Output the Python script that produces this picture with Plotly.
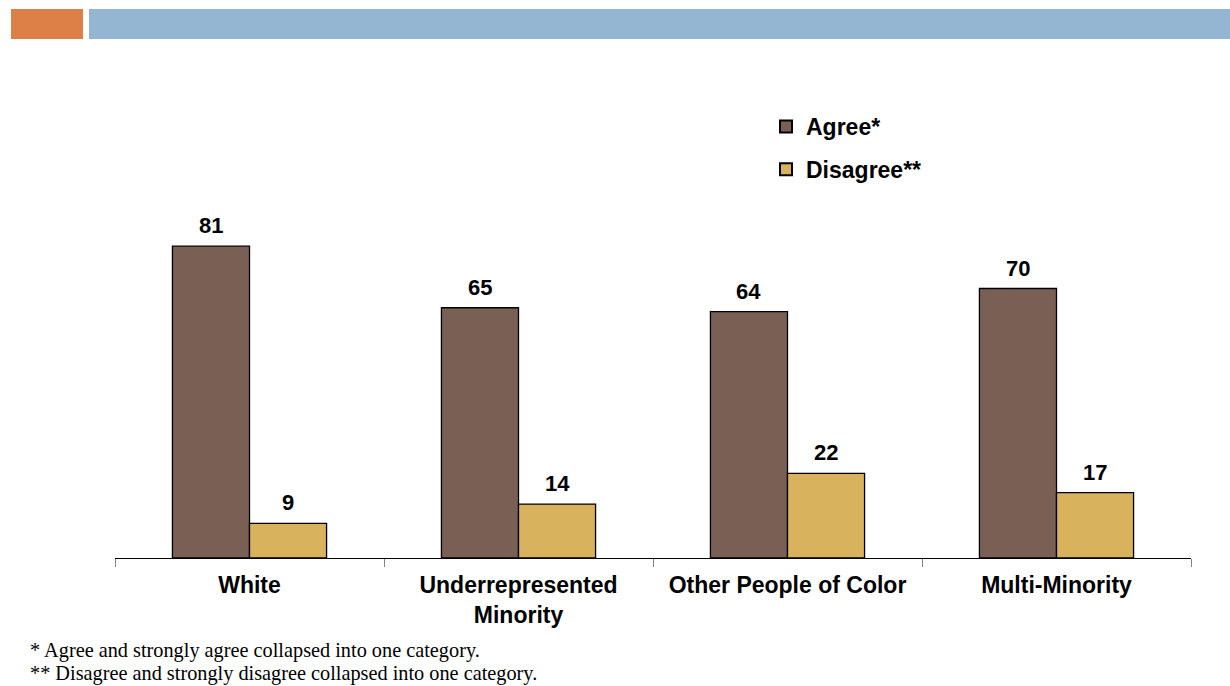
import plotly.graph_objects as go

categories = ["White", "Underrepresented<br>Minority", "Other People of Color", "Multi-Minority"]
agree = [81, 65, 64, 70]
disagree = [9, 14, 22, 17]
series_names = ["Agree*", "Disagree**"]
series_colors = ["#7A5F55", "#D8B25C"]
footnotes = [
    "* Agree and strongly agree collapsed into one category.",
    "** Disagree and strongly disagree collapsed into one category.",
]

W, H = 1230, 686
L, R, T, B = 115, 39, 173, 128
plot_w = W - L - R
plot_h = H - T - B
BAR_PX = plot_w / len(categories) * (1 - 0.427) / 2


def px_x(x):
    return (x - L) / plot_w


def px_y(y):
    return (H - B - y) / plot_h


def bold(size):
    return dict(family="Liberation Sans, Arial, sans-serif", size=size, color="black", weight="bold")


fig = go.Figure()
for name, vals, color, grp in zip(series_names, [agree, disagree], series_colors, ["a", "d"]):
    fig.add_trace(go.Bar(
        x=categories, y=vals, name=name, legendgroup=grp,
        marker=dict(color=color, line=dict(color="black", width=1.3)),
    ))

# value labels above each bar
for k, vals in enumerate([agree, disagree]):
    offset = (k - 0.5) * BAR_PX
    for cat, v in zip(categories, vals):
        fig.add_annotation(x=cat, y=v, text=str(v), showarrow=False,
                           xshift=offset, yanchor="bottom", yshift=6, font=bold(22))

# header band
fig.add_shape(type="rect", xref="paper", yref="paper",
              x0=px_x(11), x1=px_x(83), y0=px_y(39), y1=px_y(9),
              fillcolor="#DD8047", line=dict(width=0), layer="below")
fig.add_shape(type="rect", xref="paper", yref="paper",
              x0=px_x(89), x1=px_x(1230), y0=px_y(39), y1=px_y(9),
              fillcolor="#94B6D2", line=dict(width=0), layer="below")

for i, note in enumerate(footnotes):
    fig.add_annotation(text=note, xref="paper", yref="paper",
                       x=px_x(28), y=px_y(650 + i * 23), xanchor="left", yanchor="middle",
                       showarrow=False,
                       font=dict(family="Liberation Serif, Times New Roman, serif", size=20.3, color="black"))

fig.update_layout(
    width=W, height=H,
    margin=dict(l=L, r=R, t=T, b=B, pad=0),
    paper_bgcolor="white", plot_bgcolor="white",
    barmode="group", bargap=0.427, bargroupgap=0,
    showlegend=True,
    legend=dict(x=px_x(766), y=px_y(105), xanchor="left", yanchor="top",
                font=bold(23), tracegroupgap=10, bgcolor="rgba(0,0,0,0)",
                itemsizing="constant"),
    xaxis=dict(showline=True, linecolor="black", linewidth=1,
               ticks="outside", tickson="boundaries", ticklen=8, tickcolor="#808080",
               tickfont=bold(23), ticklabelstandoff=6, showgrid=False),
    yaxis=dict(range=[0, 100], visible=False, showgrid=False),
)

fig.write_html("out.html")
